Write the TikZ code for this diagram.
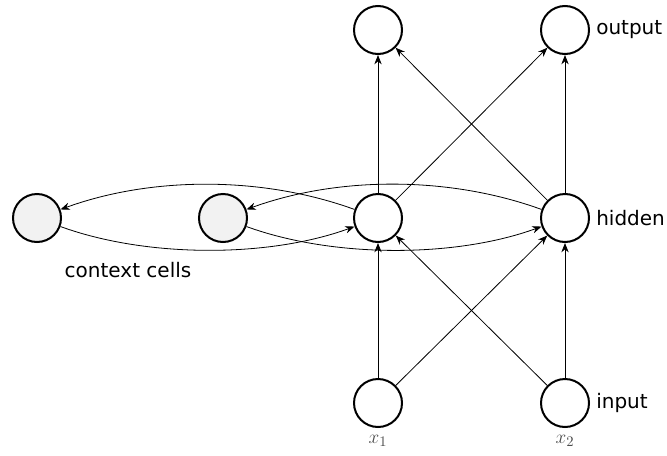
\documentclass[tikz,border=0pt]{standalone}
\usepackage{fontspec}
\setmainfont{DejaVu Sans}
\usetikzlibrary{arrows.meta,positioning}
\begin{document}
\begin{tikzpicture}
        [
          x=0.75pt, y=0.75pt,
          neuron/.style={circle,draw=black,line width=1.5pt,minimum size=36pt,inner sep=0pt,fill=white},
          context/.style={neuron,fill=black!5},
          lbl/.style={anchor=west,inner sep=0pt,font=\fontsize{15}{18}\selectfont},
          xlbl/.style={text=black!70,font=\fontsize{15}{18}\selectfont},
          conn/.style={-{Stealth[length=7pt,width=5.5pt]},line width=0.6pt}
        ]
        \useasboundingbox (0,0) rectangle (667,455);
        % output layer
        \node [neuron] (o1) at (378,425) {};
        \node [neuron] (o2) at (565,425) {};
        % hidden layer
        \node [neuron] (h1) at (378,237) {};
        \node [neuron] (h2) at (565,237) {};
        % context cells
        \node [context] (c1) at (37,237) {};
        \node [context] (c2) at (223,237) {};
        % input layer
        \node [neuron] (i1) at (378,52) {};
        \node [neuron] (i2) at (565,52) {};
        % labels
        \node [lbl, right=4.5pt of o2] (outlbl) {output};
        \node [lbl, right=4.5pt of h2] (hidlbl) {hidden};
        \node [lbl, right=4.5pt of i2] (inlbl) {input};
        \node [lbl, anchor=center] (ctxlbl) at (128,185) {context cells};
        \node [xlbl] (x1) at (378,14) {$x_1$};
        \node [xlbl] (x2) at (565,14) {$x_2$};
        % feed forward edges
        \foreach \a/\b in {i1/h1,i1/h2,i2/h1,i2/h2,h1/o1,h1/o2,h2/o1,h2/o2} {
            \draw [conn] (\a) -- (\b);
        }
        % recurrent edges
        \draw [conn] (c1) to [out=-20,in=-160,looseness=0.8] (h1);
        \draw [conn] (h1) to [out=160,in=20,looseness=0.85] (c1);
        \draw [conn] (c2) to [out=-20,in=-160,looseness=0.8] (h2);
        \draw [conn] (h2) to [out=160,in=20,looseness=0.85] (c2);
\end{tikzpicture}
\end{document}
